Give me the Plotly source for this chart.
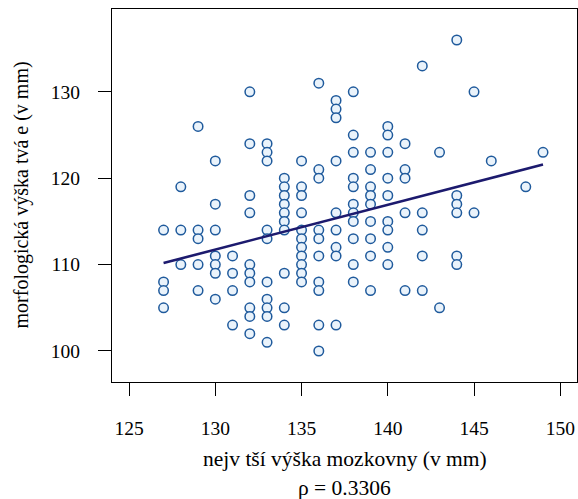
import numpy as np
import plotly.graph_objects as go

brain_height = (
    [127] * 4 + [128] * 3 + [129] * 5 + [130] * 7 + [131] * 4 + [132] * 10 +
    [133] * 10 + [134] * 10 + [135] * 11 + [136] * 10 + [137] * 9 + [138] * 11 +
    [139] * 9 + [140] * 9 + [141] * 5 + [142] * 5 + [143] * 2 + [144] * 6 +
    [145] * 2 + [146] + [148] + [149]
)
face_height = [
    114, 108, 107, 105,
    119, 114, 110,
    126, 114, 113, 110, 107,
    122, 117, 114, 111, 110, 109, 106,
    111, 109, 107, 103,
    130, 124, 118, 116, 110, 109, 108, 105, 104, 102,
    124, 123, 122, 114, 113, 108, 106, 105, 104, 101,
    120, 119, 118, 117, 116, 115, 114, 109, 105, 103,
    122, 119, 118, 116, 114, 113, 112, 111, 110, 109, 108,
    131, 121, 120, 114, 113, 111, 108, 107, 103, 100,
    129, 128, 127, 122, 116, 114, 112, 111, 103,
    130, 125, 123, 120, 119, 117, 116, 115, 113, 110, 108,
    123, 121, 119, 118, 117, 115, 113, 111, 107,
    126, 125, 123, 120, 118, 115, 114, 112, 110,
    124, 121, 120, 116, 107,
    133, 116, 114, 111, 107,
    123, 105,
    136, 118, 117, 116, 111, 110,
    130, 116,
    122,
    119,
    123,
]
x_ticks = [125, 130, 135, 140, 145, 150]
y_ticks = [100, 110, 120, 130]
x_title = "nejv tší výška mozkovny (v mm)"
y_title = "morfologická výška tvá e (v mm)"
rho_text = "ρ = 0.3306"

xa = np.array(brain_height, dtype=float)
ya = np.array(face_height, dtype=float)
slope, intercept = np.polyfit(xa, ya, 1)
fx = np.array([xa.min(), xa.max()])
fy = slope * fx + intercept

FONT = "Liberation Serif"

fig = go.Figure()
fig.add_trace(go.Scatter(
    x=brain_height, y=face_height, mode="markers",
    marker=dict(size=9.5, color="#eaf3fb", line=dict(color="#1f5a9c", width=1.5)),
    showlegend=False, hoverinfo="skip",
))
fig.add_trace(go.Scatter(
    x=fx, y=fy, mode="lines",
    line=dict(color="#1c1a6e", width=2.6),
    showlegend=False, hoverinfo="skip",
))

axis_common = dict(
    showgrid=False, zeroline=False, showline=True, mirror=True,
    linecolor="black", linewidth=1.2, ticks="outside", ticklen=13,
    tickwidth=1, tickcolor="black",
    tickfont=dict(family=FONT, size=19.5, color="black"),
)
fig.update_xaxes(range=[124.01, 150.97], tickvals=x_ticks,
                 ticklabelstandoff=15, **axis_common)
fig.update_yaxes(range=[96.41, 139.59], tickvals=y_ticks,
                 ticklabelstandoff=14, **axis_common)

fig.update_layout(
    width=578, height=499,
    margin=dict(l=112, r=1, t=9, b=117),
    plot_bgcolor="white", paper_bgcolor="white",
    font=dict(family=FONT, size=19, color="black"),
    annotations=[
        dict(text=x_title, xref="paper", yref="paper", x=0.5, y=0,
             xanchor="center", yanchor="middle", yshift=-77, showarrow=False,
             font=dict(family=FONT, size=21.5, color="black")),
        dict(text=rho_text, xref="paper", yref="paper", x=0.5, y=0,
             xanchor="center", yanchor="middle", yshift=-106, showarrow=False,
             font=dict(family=FONT, size=21.5, color="black")),
        dict(text=y_title, xref="paper", yref="paper", x=0, y=0.5,
             xanchor="center", yanchor="middle", xshift=-91, textangle=-90,
             showarrow=False, font=dict(family=FONT, size=20, color="black")),
    ],
)

fig.write_html("out.html")
